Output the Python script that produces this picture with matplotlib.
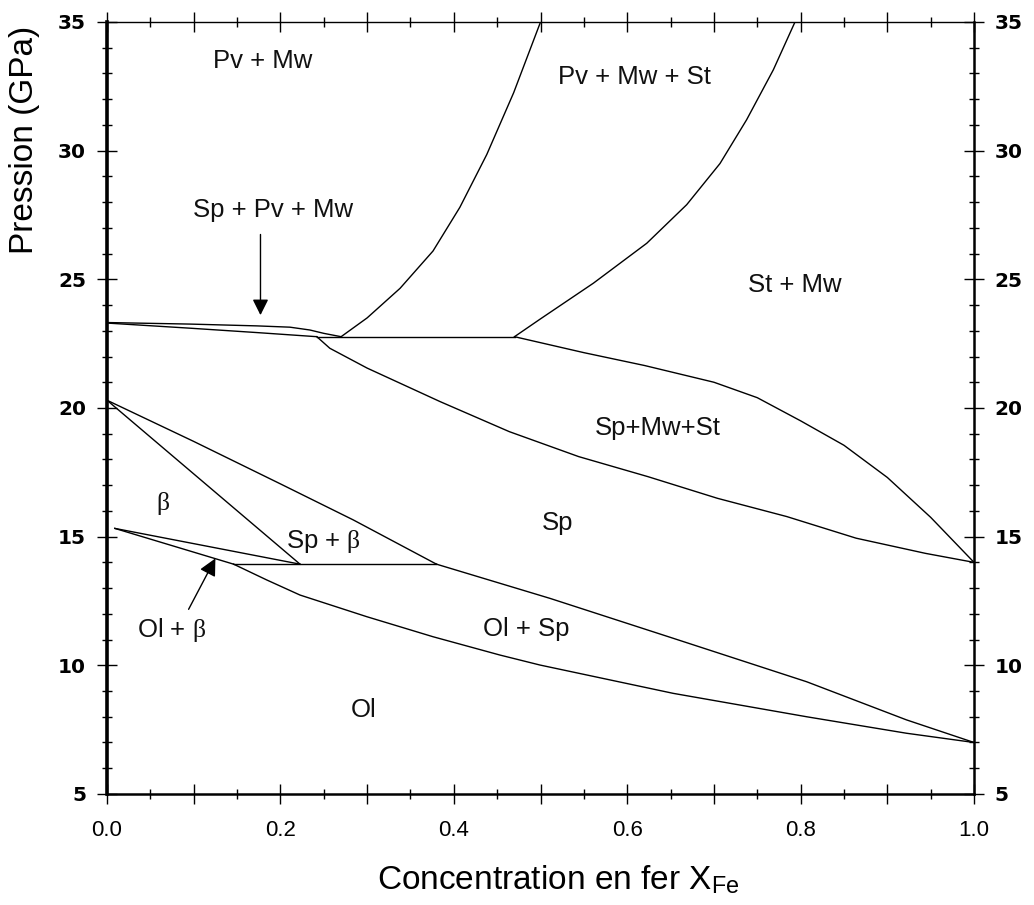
import matplotlib
matplotlib.use("Agg")
import matplotlib.pyplot as plt
from matplotlib.ticker import MultipleLocator, FuncFormatter

plt.rcParams['font.family'] = ['Liberation Sans', 'DejaVu Sans']
plt.rcParams['mathtext.fontset'] = 'custom'
plt.rcParams['mathtext.rm'] = 'Liberation Sans'
plt.rcParams['mathtext.it'] = 'Liberation Serif'
plt.rcParams['mathtext.bf'] = 'Liberation Sans:bold'

# ---- phase boundaries (X_Fe, pressure GPa) ----
spv_upper_x = [0.0, 0.096, 0.173, 0.211, 0.234, 0.25, 0.27]
spv_upper_y = [23.32, 23.26, 23.19, 23.14, 23.03, 22.9, 22.77]
spv_lower_x = [0.0, 0.096, 0.173, 0.242]
spv_lower_y = [23.3, 23.1, 22.93, 22.77]
eut_hi_x = [0.242, 0.47]
eut_hi_y = [22.77, 22.77]
pv_st_x = [0.27, 0.30, 0.338, 0.376, 0.407, 0.438, 0.469, 0.5]
pv_st_y = [22.77, 23.5, 24.65, 26.1, 27.8, 29.85, 32.25, 35.0]
st_mw_x = [0.47, 0.4994, 0.561, 0.6225, 0.6686, 0.707, 0.7377, 0.7685, 0.7935]
st_mw_y = [22.77, 23.45, 24.85, 26.4, 27.9, 29.5, 31.2, 33.14, 35.0]
spmwst_up_x = [0.47, 0.55, 0.62, 0.70, 0.75, 0.80, 0.85, 0.90, 0.95, 1.0]
spmwst_up_y = [22.77, 22.15, 21.65, 21.0, 20.4, 19.5, 18.55, 17.3, 15.75, 14.0]
sp_up_x = [0.242, 0.257, 0.30, 0.384, 0.464, 0.544, 0.624, 0.704, 0.784, 0.864, 0.944, 1.0]
sp_up_y = [22.77, 22.32, 21.55, 20.25, 19.08, 18.11, 17.33, 16.49, 15.78, 14.94, 14.35, 14.0]
spb_up_x = [0.0, 0.1, 0.2, 0.284, 0.38]
spb_up_y = [20.3, 18.7, 17.05, 15.65, 13.93]
beta_sp_x = [0.0, 0.2226]
beta_sp_y = [20.3, 13.93]
beta_low_x = [0.009, 0.2226]
beta_low_y = [15.32, 13.93]
olb_low_x = [0.009, 0.146]
olb_low_y = [15.32, 13.93]
eut_lo_x = [0.146, 0.38]
eut_lo_y = [13.93, 13.93]
olsp_up_x = [0.38, 0.511, 0.653, 0.807, 0.922, 1.0]
olsp_up_y = [13.93, 12.6, 11.05, 9.36, 7.88, 7.0]
olsp_low_x = [0.146, 0.184, 0.2226, 0.2995, 0.376, 0.453, 0.4994, 0.653, 0.807, 0.922, 1.0]
olsp_low_y = [13.93, 13.32, 12.73, 11.89, 11.11, 10.4, 10.01, 8.91, 8.0, 7.36, 7.0]

curves = [
    (spv_upper_x, spv_upper_y), (spv_lower_x, spv_lower_y), (eut_hi_x, eut_hi_y),
    (pv_st_x, pv_st_y), (st_mw_x, st_mw_y), (spmwst_up_x, spmwst_up_y),
    (sp_up_x, sp_up_y), (spb_up_x, spb_up_y), (beta_sp_x, beta_sp_y),
    (beta_low_x, beta_low_y), (olb_low_x, olb_low_y), (eut_lo_x, eut_lo_y),
    (olsp_up_x, olsp_up_y), (olsp_low_x, olsp_low_y),
]

# ---- region labels ----
labels = ["Pv + Mw", "Pv + Mw + St", "St + Mw", "Sp + Pv + Mw", "Sp+Mw+St", "Sp",
          "Sp + $\\beta$", "$\\beta$", "Ol + $\\beta$", "Ol + Sp", "Ol"]
label_x = [0.179, 0.608, 0.793, 0.192, 0.635, 0.52, 0.25, 0.064, 0.074, 0.484, 0.296]
label_y = [33.5, 32.87, 24.78, 27.7, 19.22, 15.53, 14.8, 16.29, 11.37, 11.42, 8.26]

x_ticks_major = 0.1
x_ticks_minor = 0.05
y_ticks_major = 5
y_ticks_minor = 1

fig = plt.figure(figsize=(10.34, 9.05), dpi=100)
ax = fig.add_axes([0.1035, 0.1227, 0.8385, 0.853])

for cx, cy in curves:
    ax.plot(cx, cy, color='black', lw=1.0, solid_joinstyle='round')

for t, lx, ly in zip(labels, label_x, label_y):
    ax.text(lx, ly, t, ha='center', va='center', fontsize=18.5, color='#111111')

ax.annotate('', xy=(0.177, 23.5), xytext=(0.177, 26.85),
            arrowprops=dict(arrowstyle='-|>', color='black', lw=1.0, mutation_scale=24))
ax.annotate('', xy=(0.1265, 14.25), xytext=(0.0926, 12.08),
            arrowprops=dict(arrowstyle='-|>', color='black', lw=1.0, mutation_scale=26))

ax.set_xlim(0, 1.0)
ax.set_ylim(5, 35)
ax.xaxis.set_major_locator(MultipleLocator(x_ticks_major))
ax.xaxis.set_minor_locator(MultipleLocator(x_ticks_minor))
ax.yaxis.set_major_locator(MultipleLocator(y_ticks_major))
ax.yaxis.set_minor_locator(MultipleLocator(y_ticks_minor))

def xfmt(v, pos):
    k = int(round(v * 10))
    return f"{v:.1f}" if k % 2 == 0 else ""
ax.xaxis.set_major_formatter(FuncFormatter(xfmt))
ax.yaxis.set_major_formatter(FuncFormatter(lambda v, p: f"{v:.0f}"))

ax.tick_params(which='both', direction='inout', top=True, right=True, labelright=True,
               color='black', width=1.0)
ax.tick_params(which='major', length=14)
ax.tick_params(which='minor', length=7)
ax.tick_params(axis='x', which='major', labelsize=16, pad=12)
ax.tick_params(axis='y', which='major', labelsize=14.5, pad=8,
               labelfontfamily='DejaVu Sans')

ax.spines['left'].set_linewidth(2.6)
ax.spines['bottom'].set_linewidth(1.8)
ax.spines['right'].set_linewidth(1.8)
ax.spines['top'].set_linewidth(1.0)

fig.canvas.draw()
for tk in ax.yaxis.get_major_ticks():
    tk.label1.set_fontweight('bold')
    tk.label2.set_fontweight('bold')

fig.text(25 / 1034, 1 - 140 / 905, "Pression (GPa)", rotation=90, ha='center', va='center',
         fontsize=24)
fig.text(558 / 1034, 1 - 880 / 905, "Concentration en fer X$_{\\mathrm{Fe}}$", ha='center',
         va='center', fontsize=24)

fig.savefig("out.png", dpi=100)
